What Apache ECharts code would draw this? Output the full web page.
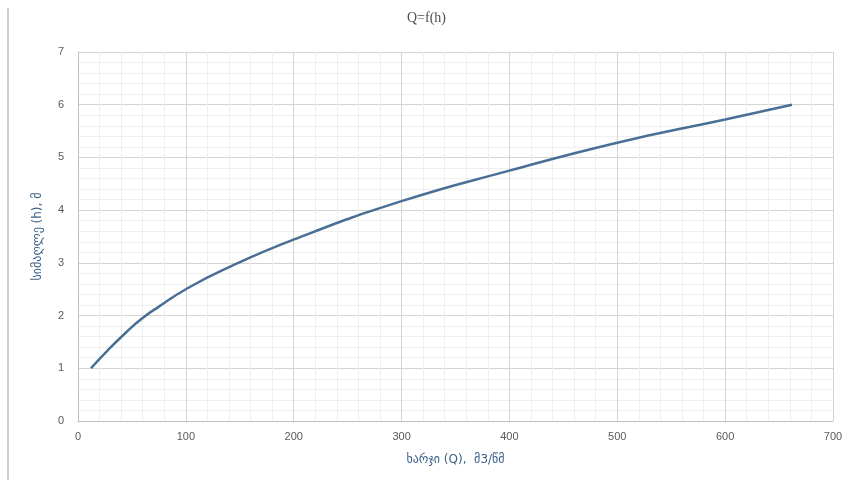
<!DOCTYPE html>
<html>
<head>
<meta charset="utf-8">
<script src="https://cdn.jsdelivr.net/npm/echarts@6/dist/echarts.min.js"></script>
<style>html,body{margin:0;padding:0;background:#fff}#c{width:853px;height:480px}</style>
</head>
<body>
<div id="c"></div>
<script>
var titleText = 'Q=f(h)';
var xName = 'ხარჯი (Q),  მ3/წმ';
var yName = 'სიმაღლე (h), მ';
var discharge = [12, 28, 44, 59, 75, 100, 136, 201, 300, 400, 500, 600, 662];
var height = [1.0, 1.35, 1.67, 1.94, 2.17, 2.5, 2.88, 3.45, 4.17, 4.75, 5.28, 5.72, 6.0];

var pairs = discharge.map(function (q, i) { return [q, height[i]]; });

var chart = echarts.init(document.getElementById('c'), null, {renderer: 'canvas'});
chart.setOption({
  animation: false,
  backgroundColor: '#ffffff',
  title: {
    text: titleText, left: 'center', top: 6,
    textStyle: {fontFamily: 'Liberation Serif', fontSize: 14, fontWeight: 'normal', color: '#505050'}
  },
  graphic: [{
    type: 'line', shape: {x1: 8, y1: 8, x2: 8, y2: 480},
    style: {stroke: '#d0d0d0', lineWidth: 2}
  }],
  grid: {left: 78, right: 20, top: 52, bottom: 59},
  xAxis: {
    type: 'value', min: 0, max: 700, interval: 100,
    name: xName, nameLocation: 'middle', nameGap: 33,
    nameTextStyle: {fontFamily: 'DejaVu Sans', fontSize: 12, color: '#3d6289'},
    axisLine: {show: true, lineStyle: {color: '#bfbfbf'}},
    axisTick: {show: false},
    axisLabel: {color: '#595959', fontFamily: 'Liberation Sans', fontSize: 11, margin: 10},
    splitLine: {show: true, lineStyle: {color: '#d4d4d4'}},
    minorTick: {show: false, splitNumber: 5},
    minorSplitLine: {show: true, lineStyle: {color: '#efefef'}}
  },
  yAxis: {
    type: 'value', min: 0, max: 7, interval: 1,
    name: yName, nameLocation: 'middle', nameGap: 34,
    nameTextStyle: {fontFamily: 'DejaVu Sans', fontSize: 12, color: '#3d6289'},
    axisLine: {show: true, lineStyle: {color: '#bfbfbf'}},
    axisTick: {show: false},
    axisLabel: {color: '#595959', fontFamily: 'Liberation Sans', fontSize: 11, margin: 14},
    splitLine: {show: true, lineStyle: {color: '#d4d4d4'}},
    minorTick: {show: false, splitNumber: 5},
    minorSplitLine: {show: true, lineStyle: {color: '#efefef'}}
  },
  series: [{
    type: 'line', data: pairs, smooth: true, showSymbol: false,
    lineStyle: {color: '#4a6f96', width: 2.5}
  }]
});
</script>
</body>
</html>
